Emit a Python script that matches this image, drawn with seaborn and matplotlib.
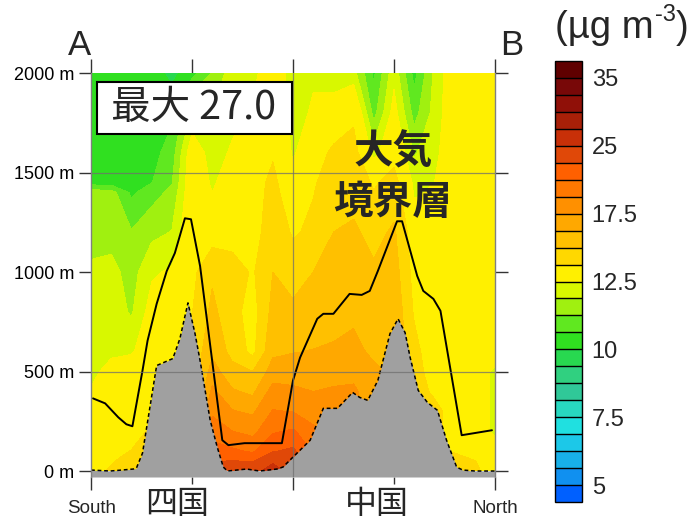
import numpy as np
import pandas as pd
import matplotlib
matplotlib.use("Agg")
import matplotlib.pyplot as plt
import seaborn as sns
from matplotlib.patches import Rectangle

# ---------------- data ----------------
col_x = [0, 2, 4, 6, 8, 10, 12, 14, 16, 18, 20, 22, 24, 26, 28, 30, 32, 34, 36, 38, 40]
row_z = [-30, 0, 50, 100, 200, 300, 400, 500, 600, 800, 1000, 1200, 1400, 1450, 1600, 1800, 2000]

# PM2.5 (ug m-3), one list per column (bottom -> top, following row_z)
pm25_columns = [
    [13.1, 13.1, 13.1, 13.1, 13.1, 13.1, 12.6, 12.2, 12.2, 12.2, 12.0, 11.6, 11.6, 10.3, 10.3, 10.3, 10.3],
    [14.0, 14.0, 13.6, 13.3, 13.1, 13.1, 13.1, 12.9, 12.3, 12.2, 12.1, 11.6, 11.5, 10.3, 10.3, 10.3, 10.3],
    [14.4, 14.4, 14.4, 13.8, 13.1, 13.1, 13.1, 13.1, 12.4, 11.8, 11.6, 11.3, 10.5, 10.3, 10.3, 10.3, 10.3],
    [14.4, 14.4, 14.4, 14.4, 14.0, 13.6, 13.3, 13.1, 13.1, 12.8, 12.4, 11.7, 11.0, 10.6, 10.4, 10.3, 10.3],
    [13.5, 13.5, 13.5, 13.5, 13.5, 13.5, 13.5, 13.5, 13.3, 13.1, 12.6, 11.9, 11.4, 11.2, 10.9, 10.5, 9.8],
    [14.0, 14.0, 14.0, 14.0, 14.0, 14.0, 14.0, 14.0, 14.0, 13.7, 13.4, 13.2, 13.1, 13.1, 13.0, 12.0, 10.4],
    [24.0, 24.0, 23.0, 22.0, 20.5, 19.0, 17.8, 16.8, 16.0, 15.3, 14.8, 13.1, 12.5, 12.4, 12.2, 12.0, 11.3],
    [24.5, 24.5, 23.2, 21.6, 19.4, 17.6, 16.4, 15.4, 14.6, 14.2, 14.4, 13.1, 13.0, 12.9, 12.6, 12.3, 12.2],
    [24.5, 24.5, 23.0, 21.0, 18.8, 17.2, 16.0, 15.0, 13.4, 13.2, 13.6, 13.1, 13.1, 13.1, 12.9, 12.6, 12.3],
    [25.6, 25.6, 24.8, 23.0, 21.0, 19.5, 18.0, 16.8, 16.0, 15.4, 15.0, 14.6, 14.2, 14.1, 13.6, 13.2, 13.0],
    [24.5, 24.5, 24.0, 23.5, 21.5, 19.3, 17.8, 16.8, 16.2, 15.3, 14.4, 13.6, 12.9, 12.7, 12.4, 12.2, 12.2],
    [21.0, 21.0, 21.0, 21.0, 19.8, 18.5, 17.5, 16.8, 16.3, 15.5, 15.0, 14.0, 13.7, 13.6, 13.1, 12.6, 12.4],
    [18.5, 18.5, 18.5, 18.5, 18.5, 18.5, 17.7, 16.9, 16.4, 15.8, 15.4, 15.0, 14.5, 14.4, 14.0, 12.8, 12.2],
    [18.0, 18.0, 18.0, 18.0, 18.0, 18.0, 17.8, 17.0, 16.6, 16.0, 15.6, 15.2, 14.6, 14.5, 14.2, 13.5, 12.1],
    [16.5, 16.5, 16.5, 16.5, 16.5, 16.5, 16.5, 16.5, 16.0, 15.8, 15.2, 14.6, 13.8, 13.6, 12.2, 11.0, 10.5],
    [16.0, 16.0, 16.0, 16.0, 16.0, 16.0, 16.0, 16.0, 16.0, 16.0, 15.6, 15.2, 14.4, 14.2, 13.3, 12.8, 12.3],
    [14.4, 14.4, 14.4, 14.4, 14.4, 14.4, 14.4, 14.4, 14.2, 13.6, 13.3, 13.0, 12.4, 12.3, 11.8, 11.0, 10.4],
    [14.2, 14.2, 14.2, 14.2, 14.2, 14.2, 13.5, 13.0, 12.8, 12.9, 13.0, 12.9, 12.6, 12.5, 12.3, 12.1, 12.0],
    [14.4, 14.4, 14.4, 13.6, 13.1, 13.1, 13.1, 13.1, 13.1, 13.1, 13.1, 13.1, 13.1, 13.1, 13.1, 13.1, 13.1],
    [14.0, 14.0, 13.8, 13.1, 13.1, 13.1, 13.1, 13.1, 13.1, 13.1, 13.1, 13.1, 13.1, 13.1, 13.1, 13.1, 13.1],
    [13.1, 13.1, 13.1, 13.1, 12.3, 12.3, 12.3, 12.3, 13.1, 13.1, 13.1, 13.1, 13.1, 13.1, 13.1, 13.1, 13.1],
]

terrain_x = [0.0, 1.9, 4.2, 4.5, 5.1, 6.5, 8.1, 8.8, 9.6, 10.3, 10.8, 11.8, 12.5, 13.1, 13.5,
             15.4, 16.7, 18.4, 19.0, 19.7, 21.7, 23.0, 24.4, 25.9, 26.6, 27.4, 28.4, 29.6,
             30.4, 31.1, 31.6, 32.4, 33.3, 34.3, 35.2, 36.2, 36.8, 38.0, 40.0]
terrain_z = [5, 0, 10, 15, 90, 530, 565, 665, 845, 690, 555, 255, 120, 20, 0,
             10, 0, 10, 20, 55, 155, 315, 315, 395, 370, 355, 455, 690,
             765, 695, 570, 405, 345, 305, 155, 20, 5, 0, 0]

pbl_x = [0.2, 1.4, 2.7, 3.5, 4.1, 5.1, 5.6, 6.5, 7.5, 8.3, 9.3, 9.9, 10.8, 13.0, 13.6,
         15.2, 18.9, 20.0, 20.7, 22.4, 23.0, 24.0, 25.6, 26.8, 27.6, 28.4, 30.3, 30.8,
         32.3, 32.9, 33.9, 34.6, 36.7, 39.7]
pbl_z = [365, 340, 270, 235, 225, 505, 655, 840, 1005, 1095, 1270, 1265, 1030, 155, 130,
         140, 140, 455, 570, 765, 790, 790, 890, 885, 905, 1005, 1255, 1255,
         980, 905, 865, 805, 180, 205]

level_bounds = [4.375, 5, 5.625, 6.25, 6.875, 7.5, 8.125, 8.75, 9.375, 10, 10.625, 11.25,
                11.875, 12.5, 13.75, 15, 16.25, 17.5, 19.375, 21.25, 23.125, 25, 27.5,
                30, 32.5, 35, 37.5]
level_colors = ["#0060ff", "#1090f0", "#18b0e8", "#1cc8e8", "#20e0e0", "#28d8c0",
                "#30c898", "#30d080", "#28d850", "#30e020", "#60e820", "#a0f010",
                "#d8f800", "#fff000", "#ffd800", "#ffc000", "#ffa800", "#ff9000",
                "#ff7800", "#ff6000", "#e04808", "#c83008", "#a82008", "#901008",
                "#780808", "#600000"]
cbar_ticks = [5, 7.5, 10, 12.5, 17.5, 25, 35]
cbar_ticklabels = ["5", "7.5", "10", "12.5", "17.5", "25", "35"]
ytick_vals = [0, 500, 1000, 1500, 2000]

# ---------------- style ----------------
sns.set_style("white")
plt.rcParams["font.family"] = ["Liberation Sans", "Noto Sans CJK JP", "DejaVu Sans"]

W, H = 691, 520
fig = plt.figure(figsize=(W / 100, H / 100), dpi=100)


def fx(px):
    return px / W


def fy(py):
    return 1 - py / H


CJK = ["Noto Sans CJK JP", "DejaVu Sans"]

ax = fig.add_axes([fx(91), fy(477), 404 / W, 404 / H])

pm25 = np.array(pm25_columns).T
cf = ax.contourf(col_x, row_z, pm25, levels=level_bounds, colors=level_colors, zorder=1)

ax.axhspan(-30, 0, color="#dce9f7", lw=0, zorder=2)
ax.fill_between(terrain_x, -30, terrain_z, color="#a0a0a0", lw=0, zorder=3)

terrain_df = pd.DataFrame({"x": terrain_x, "z": terrain_z})
pbl_df = pd.DataFrame({"x": pbl_x, "z": pbl_z})
sns.lineplot(data=terrain_df, x="x", y="z", ax=ax, color="black", lw=1.1,
             linestyle=(0, (2.5, 1.8)), sort=False, estimator=None, zorder=4)
sns.lineplot(data=pbl_df, x="x", y="z", ax=ax, color="black", lw=1.4,
             sort=False, estimator=None, zorder=5)

for yv in (500, 1500):
    ax.axhline(yv, color="#6f6f6f", lw=0.9, alpha=0.75, zorder=6)
ax.axvline(20, color="#6f6f6f", lw=0.9, alpha=0.75, zorder=6)

ax.set_xlim(0, 40)
ax.set_ylim(-30, 2000)
ax.set_xlabel("")
ax.set_ylabel("")

ax.set_xticks([0, 20, 40])
ax.set_xticks([10, 30], minor=True)
ax.tick_params(axis="x", which="major", bottom=True, top=False, length=9, width=1,
               direction="out", labelbottom=False, color="#333333")
ax.tick_params(axis="x", which="minor", bottom=True, top=False, length=5, width=1,
               direction="out", color="#333333")
ax.set_yticks(ytick_vals)
ax.set_yticklabels([f"{v} m" for v in ytick_vals])
ax.tick_params(axis="y", left=True, right=True, length=9, width=1, direction="out",
               labelsize=13, pad=3, color="#333333", labelcolor="black")

secax = ax.secondary_xaxis("top")
secax.set_xticks([0, 10, 20, 30, 40])
secax.set_xticklabels([])
secax.tick_params(length=10, width=1, color="#333333", direction="out")
secax.spines["top"].set_visible(False)

for s in ("top", "bottom"):
    ax.spines[s].set_visible(False)
for s in ("left", "right"):
    ax.spines[s].set_color("#808080")
    ax.spines[s].set_linewidth(1)
    ax.spines[s].set_zorder(7)

# ---------------- colorbar ----------------
cax = fig.add_axes([fx(555), fy(502), 27 / W, 441 / H])
cb = fig.colorbar(cf, cax=cax, ticks=cbar_ticks, drawedges=True)
cb.ax.set_yticklabels(cbar_ticklabels)
cb.ax.tick_params(length=0, labelsize=17, pad=7)
cb.outline.set_edgecolor("black")
cb.outline.set_linewidth(1)
cb.dividers.set_color("black")
cb.dividers.set_linewidth(1)

# unit label: "(µg m" + superscript "-3" + ")"
fig.text(fx(555), fy(38), "(\u00b5g m", ha="left", va="baseline", fontsize=27.5)
fig.text(fx(655), fy(21), "-3", ha="left", va="baseline", fontsize=17)
fig.text(fx(676), fy(38), ")", ha="left", va="baseline", fontsize=27.5)

# ---------------- annotations ----------------
fig.text(fx(80), fy(55), "A", ha="center", va="baseline", fontsize=25)
fig.text(fx(512), fy(55), "B", ha="center", va="baseline", fontsize=25)
fig.text(fx(92), fy(513), "South", ha="center", va="baseline", fontsize=13.5)
fig.text(fx(495), fy(513), "North", ha="center", va="baseline", fontsize=13.5)
fig.text(fx(177), fy(504), "四国", ha="center", va="center", fontsize=23, family=CJK)
fig.text(fx(377), fy(504), "中国", ha="center", va="center", fontsize=23, family=CJK)

fig.add_artist(Rectangle((fx(97), fy(134)), 195 / W, 52 / H, transform=fig.transFigure,
                         facecolor="white", edgecolor="black", lw=1.5, zorder=10))
fig.text(fx(194), fy(108), "最大 27.0", ha="center", va="center", fontsize=28.5, zorder=11,
         family=CJK)
fig.text(fx(393), fy(152), "大気", ha="center", va="center", fontsize=28.5, weight="bold",
         family=CJK, zorder=11)
fig.text(fx(393), fy(202), "境界層", ha="center", va="center", fontsize=28.5, weight="bold",
         family=CJK, zorder=11)

fig.savefig("out.png", dpi=100)
